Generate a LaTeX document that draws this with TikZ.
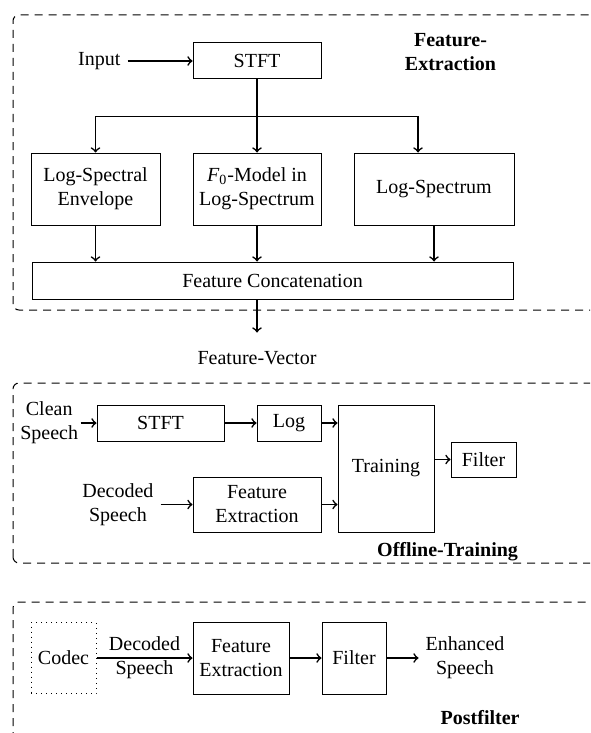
\documentclass[tikz,border=0pt]{standalone}
\usepackage{fontspec}
\setmainfont{Liberation Serif}
\usetikzlibrary{positioning,calc}

\begin{document}
\begin{tikzpicture}[
    font=\fontsize{10}{12}\selectfont,
    node distance=16pt and 16pt,
    box/.style={draw, line width=0.5pt, minimum width=#1, minimum height=18pt, align=center, inner sep=0pt},
    box/.default=64pt,
    arrow/.style={->, line width=0.8pt},
    frame/.style={draw, dash pattern=on 4pt off 3pt, line width=0.5pt, rounded corners=3pt},
    title/.style={font=\fontsize{10}{12}\selectfont\bfseries, align=center},
]
    \useasboundingbox (0,0) rectangle (295pt,-366.5pt);
    \clip (0,0) rectangle (295pt,-366.5pt);

    % Feature-Extraction
    \draw[frame] (6.5pt,-155pt) rectangle (320pt,-7.5pt);
    \node[box] (stft) at (128.5pt,-30.5pt) {STFT};
    \node[left=32.5pt of stft] (input) {Input};
    \node[box, minimum height=36pt, below=36.5pt of stft] (f0) {\textit{F}\textsubscript{0}-Model in\\Log-Spectrum};
    \node[box=64.5pt, minimum height=36pt, left=16pt of f0] (lse) {Log-Spectral\\Envelope};
    \node[box=80pt, minimum height=36pt, right=16pt of f0] (ls) {Log-Spectrum};
    \node[box=240.5pt, minimum height=18.5pt, below=18pt of $(lse.south west)!0.5!(ls.south east)$] (concat) {Feature Concatenation};
    \node[title] (fextr) at (225.25pt,-26.25pt) {Feature-\\Extraction};

    \draw[arrow] (input) -- (stft);
    \draw[arrow] (stft) -- (f0);
    \draw[line width=0.8pt] (stft.south) -- ++(0,-18.5pt) coordinate (bus);
    \draw[arrow] (bus) -| (lse.north);
    \draw[arrow] (bus) -| ([xshift=-8pt]ls.north);
    \foreach \n in {lse,f0,ls}
        \draw[arrow] (\n.south) -- (\n.south |- concat.north);
    \draw[arrow] (f0.south |- concat.south) -- ++(0,-16.5pt) coordinate (fvec);
    \node[below=6pt of fvec] (fvlabel) {Feature-Vector};

    % Offline-Training
    \draw[frame] (6.5pt,-281.5pt) rectangle (320pt,-191.5pt);
    \node[box=63.5pt] (stftb) at (80.25pt,-211.5pt) {STFT};
    \node[left=8pt of stftb, inner sep=1pt, align=center] (clean) {Clean\\Speech};
    \node[box=32pt, right=16pt of stftb] (log) {Log};
    \node[box=48pt, minimum height=63.5pt, right=8pt of log.north east, anchor=north west] (train) {Training};
    \node[box=32.5pt, minimum height=17.5pt, right=8pt of train, yshift=4.5pt] (filt) {Filter};
    \node[box, minimum height=27.5pt, left=8pt of train.south west, anchor=south east] (fext) {Feature\\Extraction};
    \node[left=16pt of fext, align=center] (decb) {Decoded\\Speech};
    \node[title, anchor=east] (otrain) at (262.5pt,-276pt) {Offline-Training};

    \draw[arrow] (clean) -- (stftb);
    \draw[arrow] (stftb) -- (log);
    \draw[arrow] (log.east) -- (log.east -| train.west);
    \draw[arrow] (decb) -- (fext);
    \draw[arrow] (fext.east) -- (fext.east -| train.west);
    \draw[arrow] (train.east |- filt.west) -- (filt.west);

    % Postfilter
    \draw[frame] (6.5pt,-380pt) rectangle (320pt,-301pt);
    \node[box=48pt, minimum height=36pt] (fextc) at (120.5pt,-329pt) {Feature\\Extraction};
    \node[box=32.5pt, minimum height=35.5pt, dotted, left=48pt of fextc] (codec) {Codec};
    \node[box=32pt, minimum height=36pt, right=16pt of fextc] (filtc) {Filter};
    \node[right=16pt of filtc, align=center] (enh) {Enhanced\\Speech};
    \node[title, anchor=east] (pfilt) at (263.3pt,-358.8pt) {Postfilter};

    \draw[arrow] (codec) -- node[align=center] {Decoded\\Speech} (fextc);
    \draw[arrow] (fextc) -- (filtc);
    \draw[arrow] (filtc) -- (enh);
\end{tikzpicture}
\end{document}
